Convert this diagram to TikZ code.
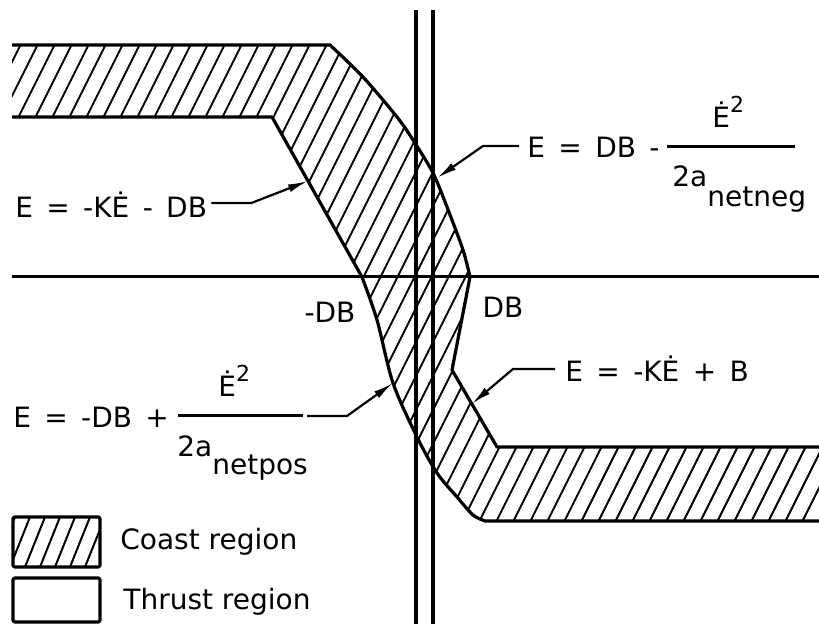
\documentclass[tikz,border=0pt]{standalone}
\usepackage{fontspec}
\setmainfont{DejaVu Sans}
\newfontfamily\eqfont{DejaVu Sans}[WordSpace=1.5]
\usetikzlibrary{arrows.meta,calc}

\newcommand{\sqr}{\raisebox{7.5pt}{\fontsize{11}{12}\selectfont 2}}
\newcommand{\netsub}[1]{\raisebox{-10pt}{#1}}

\begin{document}
\begin{tikzpicture}[x=0.5pt,y=-0.5pt,
  bound/.style={line width=1.6pt,line join=round},
  hatch/.style={line width=1pt},
  axis/.style={line width=1.5pt},
  fracbar/.style={line width=1.5pt},
  lead/.style={line width=1.1pt,-{Latex[length=10pt,width=4pt]}},
  eq/.style={inner sep=0pt,font=\eqfont\fontsize{14}{16}\selectfont},
  leg/.style={inner sep=0pt,font=\fontsize{14}{16}\selectfont}]
  \useasboundingbox (0,0) rectangle (819,624);

  \coordinate (tl) at (12,45);
  \coordinate (tc) at (330,45);
  \coordinate (vR) at (470,277);
  \coordinate (kR) at (452,370);
  \coordinate (bR) at (497,447);
  \coordinate (bRend) at (819,447);
  \coordinate (lowend) at (819,521);
  \coordinate (bL) at (485,521);
  \coordinate (vL) at (362,277);
  \coordinate (kL) at (272,117);
  \coordinate (ml) at (12,117);

  \begin{scope}
    \clip (tl) -- (tc) -- plot[smooth] coordinates {(330,45) (363,77) (397,117) (413,140) (433,173) (447,207) (463,250) (470,277)}
      -- (kR) -- (bR) -- (bRend) -- (lowend) -- (bL)
      -- plot[smooth] coordinates {(485,521) (473,515) (457,497) (437,473) (417,437) (393,383) (377,320) (362,277)}
      -- (kL) -- (ml) -- cycle;
    \foreach \x in {-320,-303,...,830}
      \draw[hatch] (\x,624) -- ++(312,-624);
  \end{scope}

  \draw[bound] (tl) -- (tc) -- plot[smooth] coordinates {(330,45) (363,77) (397,117) (413,140) (433,173) (447,207) (463,250) (470,277)}
    -- (kR) -- (bR) -- (bRend);
  \draw[bound] (ml) -- (kL) -- (vL) -- plot[smooth] coordinates {(362,277) (377,320) (393,383) (417,437) (437,473) (457,497) (473,515) (485,521)}
    -- (lowend);

  \coordinate (axL) at (12,277);
  \coordinate (axR) at (819,277);
  \draw[axis] (axL) -- (axR);
  \draw[bound] (416,10) -- (416,624);
  \draw[bound] (433,10) -- (433,624);

  \node[eq,anchor=base west] (eqA) at (15,218) {E = -KĖ - DB};
  \coordinate (tipA) at ($(kL)!0.4!(vL)$);
  \draw[lead] ([xshift=2pt,yshift=7.5pt]eqA.base east) -- ++(40,0) -- (tipA);

  \node[eq,anchor=base west] (eqB) at (527,158) {E = DB -};
  \node[eq,anchor=base west] (numB) at (712,128) {Ė\sqr};
  \node[eq,anchor=base west] (denB) at (672,187) {2a\netsub{netneg}};
  \draw[fracbar] (667,147) -- (795,147);
  \coordinate (tipB) at (437,178);
  \draw[lead] ([xshift=-4pt,yshift=6pt]eqB.base west) -- ++(-36,0) -- (tipB);

  \node[eq] (dbR) at (503,307) {DB};
  \node[eq] (dbL) at (330,312) {-DB};

  \node[eq,anchor=base west] (eqC) at (13,428) {E = -DB +};
  \node[eq,anchor=base west] (numC) at (218,397) {Ė\sqr};
  \node[eq,anchor=base west] (denC) at (177,457) {2a\raisebox{-9pt}{netpos}};
  \coordinate (barC) at (303,416);
  \draw[fracbar] (178,416) -- (barC);
  \coordinate (tipC) at (393,383);
  \draw[lead] ([xshift=2pt]barC) -- ++(40,0) -- (tipC);

  \node[eq,anchor=base west] (eqD) at (565,382) {E = -KĖ + B};
  \coordinate (tipD) at ($(kR)!0.44!(bR)$);
  \draw[lead] ([xshift=-5pt,yshift=6.5pt]eqD.base west) -- ++(-42,0) -- (tipD);

  \begin{scope}
    \clip (13,517) rectangle (100,567);
    \foreach \x in {-20,-5,...,110}
      \draw[hatch] (\x,567) -- ++(20,-50);
  \end{scope}
  \draw[bound,rounded corners=1pt] (13,517) rectangle (100,567);
  \draw[bound,rounded corners=1pt] (13,578) rectangle (100,622);
  \node[leg,anchor=base west] (coastlbl) at (120,550) {Coast region};
  \node[leg,anchor=base west] (thrustlbl) at (123,610) {Thrust region};
\end{tikzpicture}
\end{document}
